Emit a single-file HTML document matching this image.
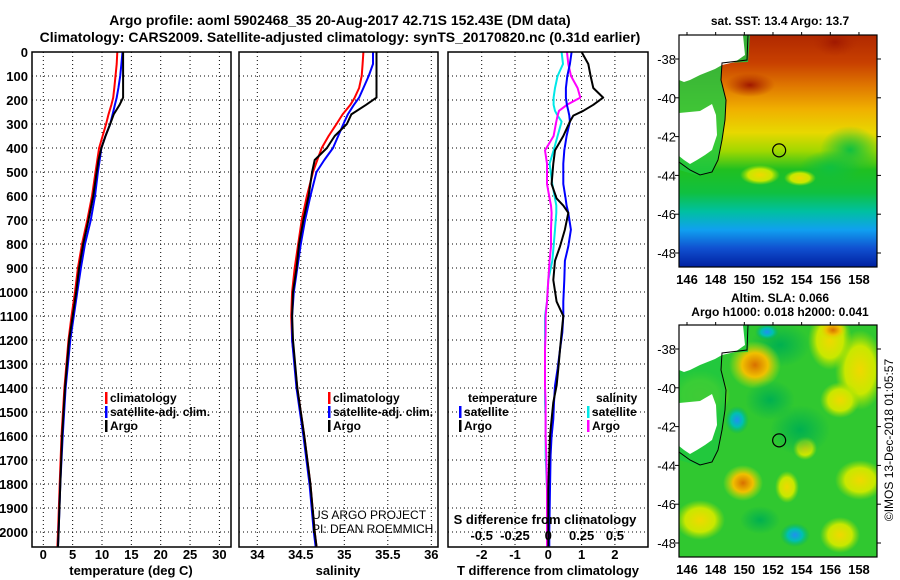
<!DOCTYPE html>
<html><head><meta charset="utf-8">
<style>
body{margin:0;background:#fff;}
svg{display:block;font-family:"Liberation Sans",sans-serif;}
</style></head>
<body>
<svg id="c" width="900" height="580" viewBox="0 0 900 580" xmlns="http://www.w3.org/2000/svg">
<defs>
<linearGradient id="sstg" x1="0" y1="0" x2="0" y2="1">
<stop offset="0" stop-color="#b02800"/><stop offset="0.12" stop-color="#c84000"/>
<stop offset="0.22" stop-color="#e07800"/><stop offset="0.32" stop-color="#f0b000"/>
<stop offset="0.42" stop-color="#e8d800"/><stop offset="0.5" stop-color="#a0d800"/>
<stop offset="0.58" stop-color="#20c020"/><stop offset="0.68" stop-color="#10c040"/>
<stop offset="0.76" stop-color="#00c0a0"/><stop offset="0.84" stop-color="#10a0f0"/>
<stop offset="0.92" stop-color="#1050d0"/><stop offset="1" stop-color="#0020a0"/></linearGradient>
<radialGradient id="rg-org"><stop offset="0" stop-color="#d87000"/><stop offset="0.5" stop-color="#f0c000"/><stop offset="1" stop-color="#c8e800" stop-opacity="0"/></radialGradient>
<radialGradient id="rg-yel"><stop offset="0" stop-color="#f0d800"/><stop offset="0.6" stop-color="#c8e800"/><stop offset="1" stop-color="#a0e000" stop-opacity="0"/></radialGradient>
<radialGradient id="rg-blu"><stop offset="0" stop-color="#2090f0"/><stop offset="0.5" stop-color="#00c0b0"/><stop offset="1" stop-color="#00b060" stop-opacity="0"/></radialGradient>
<radialGradient id="rg-grn"><stop offset="0" stop-color="#00b050"/><stop offset="1" stop-color="#00b050" stop-opacity="0"/></radialGradient>
<radialGradient id="rg-sg"><stop offset="0" stop-color="#10c040"/><stop offset="1" stop-color="#10c040" stop-opacity="0"/></radialGradient>
<radialGradient id="rg-red"><stop offset="0" stop-color="#a01800"/><stop offset="1" stop-color="#b02800" stop-opacity="0"/></radialGradient>
</defs>
<g id="layer"></g>
</svg>
<script>
// ---------- data ----------
const depthP = [0,50,100,150,190,220,260,300,350,400,450,500,600,700,800,900,1000,1100,1200,1400,1600,1800,2000,2060];
const tempArgo = [13.6,13.6,13.6,13.6,13.6,13.0,12.0,11.4,10.6,9.9,9.4,9.1,8.5,7.7,6.8,6.1,5.6,5.0,4.4,3.7,3.2,2.9,2.6,2.5];
const tempClim = [12.6,12.5,12.3,12.1,11.9,11.6,11.1,10.7,10.1,9.5,9.2,8.9,8.3,7.5,6.6,5.9,5.4,4.8,4.3,3.6,3.1,2.8,2.5,2.4];
const tempSat = [13.5,13.3,13.1,12.8,12.5,12.2,11.8,11.4,10.6,9.9,9.6,9.3,8.8,8.1,7.1,6.4,5.8,5.2,4.6,3.8,3.3,2.9,2.6,2.5];
const salArgo = [35.37,35.37,35.37,35.37,35.37,35.25,35.08,35.03,34.89,34.80,34.66,34.63,34.59,34.53,34.48,34.45,34.41,34.40,34.41,34.46,34.54,34.61,34.66,34.68];
const salClim = [35.22,35.21,35.20,35.17,35.12,35.07,34.98,34.91,34.82,34.74,34.69,34.64,34.57,34.51,34.47,34.43,34.40,34.39,34.40,34.46,34.54,34.61,34.66,34.68];
const salSat = [35.33,35.33,35.28,35.22,35.17,35.11,35.04,34.99,34.93,34.87,34.77,34.68,34.61,34.55,34.50,34.46,34.42,34.40,34.40,34.45,34.53,34.60,34.65,34.67];
const depthD = [0,50,100,150,190,220,245,265,290,350,410,465,550,610,640,670,740,810,870,950,1040,1100,1170,1240,1320,1390,1460,1530,1600,1680,1820,2000,2060];
const tdiffArgo = [1.0,1.2,1.27,1.35,1.65,1.35,1.05,0.75,0.65,0.45,0.2,0.15,0.1,0.25,0.45,0.6,0.5,0.35,0.2,0.15,0.25,0.45,0.4,0.35,0.3,0.25,0.15,0.1,0.05,0.03,0.0,0.0,0.0];
const tdiffSat = [0.7,0.65,0.57,0.53,0.53,0.56,0.6,0.63,0.65,0.55,0.48,0.45,0.45,0.52,0.55,0.6,0.68,0.6,0.5,0.48,0.45,0.45,0.42,0.35,0.28,0.2,0.17,0.15,0.1,0.07,0.05,0.03,0.03];
const sdiffSat = [0.1,0.11,0.07,0.05,0.04,0.04,0.05,0.07,0.1,0.07,0.04,0.01,0.03,0.05,0.06,0.06,0.05,0.04,0.03,0.0,-0.01,-0.025,-0.025,-0.025,-0.025,-0.025,-0.025,-0.02,-0.02,-0.02,-0.01,-0.01,-0.01];
const sdiffArgo = [0.14,0.15,0.17,0.22,0.24,0.14,0.08,0.07,0.06,0.04,-0.025,-0.01,-0.01,0.01,0.02,0.025,0.02,0.02,0.01,0.0,-0.01,-0.02,-0.02,-0.025,-0.025,-0.025,-0.02,-0.02,-0.02,-0.015,-0.01,-0.01,-0.01];
const depthTicks = [0,100,200,300,400,500,600,700,800,900,1000,1100,1200,1300,1400,1500,1600,1700,1800,1900,2000];
const tempTicks = [0,5,10,15,20,25,30];
const salTicks = [34,34.5,35,35.5,36];
const salTickLabels = ["34","34.5","35","35.5","36"];
const tdTicks = [-2,-1,0,1,2];
const sdTicks = [-0.5,-0.25,0,0.25,0.5];
const sdTickLabels = ["-0.5","-0.25","0","0.25","0.5"];
const latTicks = [-38,-40,-42,-44,-46,-48];
const lonTicks = [146,148,150,152,154,156,158];

// ---------- helpers ----------
const NS = "http://www.w3.org/2000/svg";
const root = document.getElementById('layer');
function el(tag, attrs, parent){
  const e = document.createElementNS(NS, tag);
  for (const k in attrs) e.setAttribute(k, attrs[k]);
  (parent||root).appendChild(e);
  return e;
}
function txt(s, x, y, opts, parent){
  const t = el('text', Object.assign({x:x, y:y, 'font-size':13, 'font-weight':'bold', fill:'#000'}, opts||{}), parent);
  t.textContent = s;
  return t;
}
const TOP = 52, BOT = 547;
const yD = d => TOP + d * 0.24;

const panels = [
  {name:'temperature', x0:32, x1:231, sx: v => 43.3 + v * 5.87},
  {name:'salinity', x0:239, x1:438, sx: v => 257.3 + (v - 34) * 87},
  {name:'difference', x0:448, x1:648, sx: v => 548.3 + v * 33.3}
];
const sxS = v => 548.3 + v * 133.3;

function grid(p, xs){
  xs.forEach(v => {
    const g = el('line', {x1:p.sx(v), x2:p.sx(v), y1:TOP, y2:BOT, stroke:'#000', 'stroke-width':1, 'stroke-dasharray':'1,3'});
    
    
  });
  depthTicks.forEach(d => {
    const g = el('line', {x1:p.x0, x2:p.x1, y1:yD(d), y2:yD(d), stroke:'#000', 'stroke-width':1, 'stroke-dasharray':'1,3'});
    
    
  });
}
function line(xs, ds, sx, color, name){
  const pts = xs.map((v,i) => sx(v).toFixed(1) + ',' + yD(ds[i]).toFixed(1)).join(' ');
  const pl = el('polyline', {points:pts, fill:'none', stroke:color, 'stroke-width':2, 'stroke-linejoin':'round'});
  
  
}
function frame(p){
  const r = el('rect', {x:p.x0, y:TOP, width:p.x1-p.x0, height:BOT-TOP, fill:'none', stroke:'#000', 'stroke-width':1.5});
  
  
}

// Titles
let t = txt('Argo profile: aoml 5902468_35 20-Aug-2017 42.71S 152.43E (DM data)', 340, 25, {'font-size':14, 'text-anchor':'middle'});


t = txt('Climatology: CARS2009. Satellite-adjusted climatology: synTS_20170820.nc (0.31d earlier)', 340, 42, {'font-size':14, 'text-anchor':'middle'});



depthTicks.forEach(d => {
  const l = txt(String(d), 28, yD(d) + 5, {'text-anchor':'end'});
  
  
});

// Panel 1
const P1 = panels[0];
grid(P1, tempTicks);
line(tempClim, depthP, P1.sx, '#ff0000', 'temperature-climatology-line');
line(tempSat, depthP, P1.sx, '#0000ff', 'temperature-satellite-line');
line(tempArgo, depthP, P1.sx, '#000000', 'temperature-argo-line');
frame(P1);
tempTicks.forEach(v => {
  const l = txt(String(v), P1.sx(v), 559, {'text-anchor':'middle'});
  
  
});
t = txt('temperature (deg C)', 131, 575, {'text-anchor':'middle'});



// Panel 2
const P2 = panels[1];
grid(P2, salTicks);
line(salClim, depthP, P2.sx, '#ff0000', 'salinity-climatology-line');
line(salSat, depthP, P2.sx, '#0000ff', 'salinity-satellite-line');
line(salArgo, depthP, P2.sx, '#000000', 'salinity-argo-line');
frame(P2);
salTicks.forEach((v,i) => {
  const l = txt(salTickLabels[i], P2.sx(v), 559, {'text-anchor':'middle'});
  
  
});
t = txt('salinity', 338, 575, {'text-anchor':'middle'});


t = txt('US ARGO PROJECT', 312, 519, {'font-weight':'normal', 'font-size':12});


t = txt('PI: DEAN ROEMMICH', 312, 533, {'font-weight':'normal', 'font-size':12});



// Panel 3
const P3 = panels[2];
grid(P3, tdTicks);
line(sdiffSat, depthD, sxS, '#00e8e8', 'salinity-diff-satellite-line');
line(sdiffArgo, depthD, sxS, '#ff00ff', 'salinity-diff-argo-line');
line(tdiffSat, depthD, P3.sx, '#0000ff', 'temperature-diff-satellite-line');
line(tdiffArgo, depthD, P3.sx, '#000000', 'temperature-diff-argo-line');
frame(P3);
tdTicks.forEach(v => {
  const l = txt(String(v), P3.sx(v), 559, {'text-anchor':'middle'});
  
  
});
sdTicks.forEach((v,i) => {
  const l = txt(sdTickLabels[i], sxS(v), 540, {'text-anchor':'middle'});
  
  
});
t = txt('S difference from climatology', 545, 524, {'text-anchor':'middle'});


t = txt('T difference from climatology', 548, 575, {'text-anchor':'middle'});



function legendItem(x, y, color, label, name){
  const g = el('g', {});
  
  
  el('rect', {x:x, y:y-10, width:2.5, height:12, fill:color}, g);
  txt(label, x+5, y, {'font-size':12}, g);
}
legendItem(105, 402, '#ff0000', 'climatology', 'legend-temperature-climatology');
legendItem(105, 416, '#0000ff', 'satellite-adj. clim.', 'legend-temperature-satellite');
legendItem(105, 430, '#000000', 'Argo', 'legend-temperature-argo');
legendItem(328, 402, '#ff0000', 'climatology', 'legend-salinity-climatology');
legendItem(328, 416, '#0000ff', 'satellite-adj. clim.', 'legend-salinity-satellite');
legendItem(328, 430, '#000000', 'Argo', 'legend-salinity-argo');
t = txt('temperature', 468, 402, {'font-size':12});


t = txt('salinity', 596, 402, {'font-size':12});


legendItem(459, 416, '#0000ff', 'satellite', 'legend-tdiff-satellite');
legendItem(459, 430, '#000000', 'Argo', 'legend-tdiff-argo');
legendItem(587, 416, '#00e8e8', 'satellite', 'legend-sdiff-satellite');
legendItem(587, 430, '#ff00ff', 'Argo', 'legend-sdiff-argo');

// ---------- maps ----------
const MX0 = 679, MX1 = 877;
const lonX = lon => 687 + (lon - 146) * 14.33;
function drawMap(y0, y1, name, kind){
  const g = el('g', {});
  
  
  const latY = lat => y0 + 24 + (-38 - lat) * 19.4;
  const clipId = 'clip-' + kind;
  const cp = el('clipPath', {id:clipId}, g);
  el('rect', {x:MX0, y:y0, width:MX1-MX0, height:y1-y0}, cp);
  const inner = el('g', {'clip-path':'url(#' + clipId + ')'}, g);
  const o = y0 - 35;
  if (kind === 'sst'){
    el('rect', {x:MX0, y:y0, width:MX1-MX0, height:y1-y0, fill:'url(#sstg)'}, inner);
    el('ellipse', {cx:850, cy:150+o, rx:30, ry:24, fill:'url(#rg-sg)'}, inner);
    el('ellipse', {cx:830, cy:168+o, rx:30, ry:18, fill:'url(#rg-sg)'}, inner);
    el('ellipse', {cx:835, cy:42+o, rx:22, ry:14, fill:'url(#rg-red)'}, inner);
    el('ellipse', {cx:750, cy:85+o, rx:25, ry:12, fill:'url(#rg-red)'}, inner);
    el('ellipse', {cx:760, cy:175+o, rx:20, ry:10, fill:'url(#rg-yel)'}, inner);
    el('ellipse', {cx:800, cy:178+o, rx:16, ry:8, fill:'url(#rg-yel)'}, inner);
  } else {
    el('rect', {x:MX0, y:y0, width:MX1-MX0, height:y1-y0, fill:'#30c830'}, inner);
    [[700,395,30,25,'rg-yel'],[780,345,30,22,'rg-grn'],[860,370,25,40,'rg-yel'],[830,340,22,30,'rg-yel'],
     [755,365,26,24,'rg-org'],[833,330,14,10,'rg-org'],[840,400,20,18,'rg-yel'],[737,420,12,14,'rg-blu'],
     [767,332,12,8,'rg-blu'],[743,483,20,18,'rg-org'],[787,487,12,16,'rg-yel'],[805,448,12,12,'rg-yel'],
     [840,535,20,18,'rg-yel'],[800,430,30,25,'rg-grn'],[770,400,25,20,'rg-grn'],[860,480,25,20,'rg-yel'],
     [700,520,25,20,'rg-yel'],[795,535,15,12,'rg-blu'],[760,520,20,14,'rg-grn']
    ].forEach(b => el('ellipse', {cx:b[0], cy:b[1], rx:b[2], ry:b[3], fill:'url(#' + b[4] + ')'}, inner));
  }
  el('polygon', {points:[[679,35],[750,35],[748,62],[722,63],[721,80],[726,100],[725,120],[722,140],[718,160],[712,172],[700,176],[679,170]].map(p=>p[0]+','+(p[1]+o)).join(' '), fill:'#20c840', opacity:0.85}, inner);
  el('polygon', {points:[[679,35],[743,35],[745,55],[735,62],[722,65],[715,69],[700,75],[690,80],[684,82],[679,80]].map(p=>p[0]+','+(p[1]+o)).join(' '), fill:'#fff'}, inner);
  el('polygon', {points:[[679,113],[700,111],[712,104],[716,115],[717,135],[712,150],[705,155],[697,160],[690,164],[684,160],[679,156]].map(p=>p[0]+','+(p[1]+o)).join(' '), fill:'#fff'}, inner);
  el('polyline', {points:[[748,35],[747,60],[722,63],[721,80],[726,100],[725,120],[722,140],[718,160],[712,172],[700,175],[690,170],[679,162]].map(p=>p[0]+','+(p[1]+o)).join(' '), fill:'none', stroke:'#000', 'stroke-width':1}, inner);
  const c = el('circle', {cx:lonX(152.43), cy:latY(-42.71), r:6.5, fill:'none', stroke:'#000', 'stroke-width':1.2}, g);
  
  
  el('rect', {x:MX0, y:y0, width:MX1-MX0, height:y1-y0, fill:'none', stroke:'#000', 'stroke-width':1.2}, g);
  latTicks.forEach(lat => {
    el('line', {x1:MX1, x2:MX1+4, y1:latY(lat), y2:latY(lat), stroke:'#000'}, g);
    el('line', {x1:MX0-4, x2:MX0, y1:latY(lat), y2:latY(lat), stroke:'#000'}, g);
    const l = txt(String(lat), 676, latY(lat)+5, {'text-anchor':'end', 'font-weight':'normal'}, g);
    
    
  });
  lonTicks.forEach(lon => {
    el('line', {x1:lonX(lon), x2:lonX(lon), y1:y0-3, y2:y0, stroke:'#000'}, g);
    const l = txt(String(lon), lonX(lon), y1+17, {'text-anchor':'middle'}, g);
    
    
  });
}
drawMap(35, 267, 'sst-map', 'sst');
drawMap(325, 557, 'sla-map', 'sla');
t = txt('sat. SST: 13.4 Argo: 13.7', 780, 25, {'text-anchor':'middle', 'font-size':12});


t = txt('Altim. SLA: 0.066', 780, 302, {'text-anchor':'middle', 'font-size':12});


t = txt('Argo h1000: 0.018 h2000: 0.041', 780, 316, {'text-anchor':'middle', 'font-size':12});


t = txt('©IMOS 13-Dec-2018 01:05:57', 0, 0, {'text-anchor':'middle', 'font-weight':'normal', 'font-size':12, transform:'translate(893,440) rotate(-90)'});


</script>
</body></html>
